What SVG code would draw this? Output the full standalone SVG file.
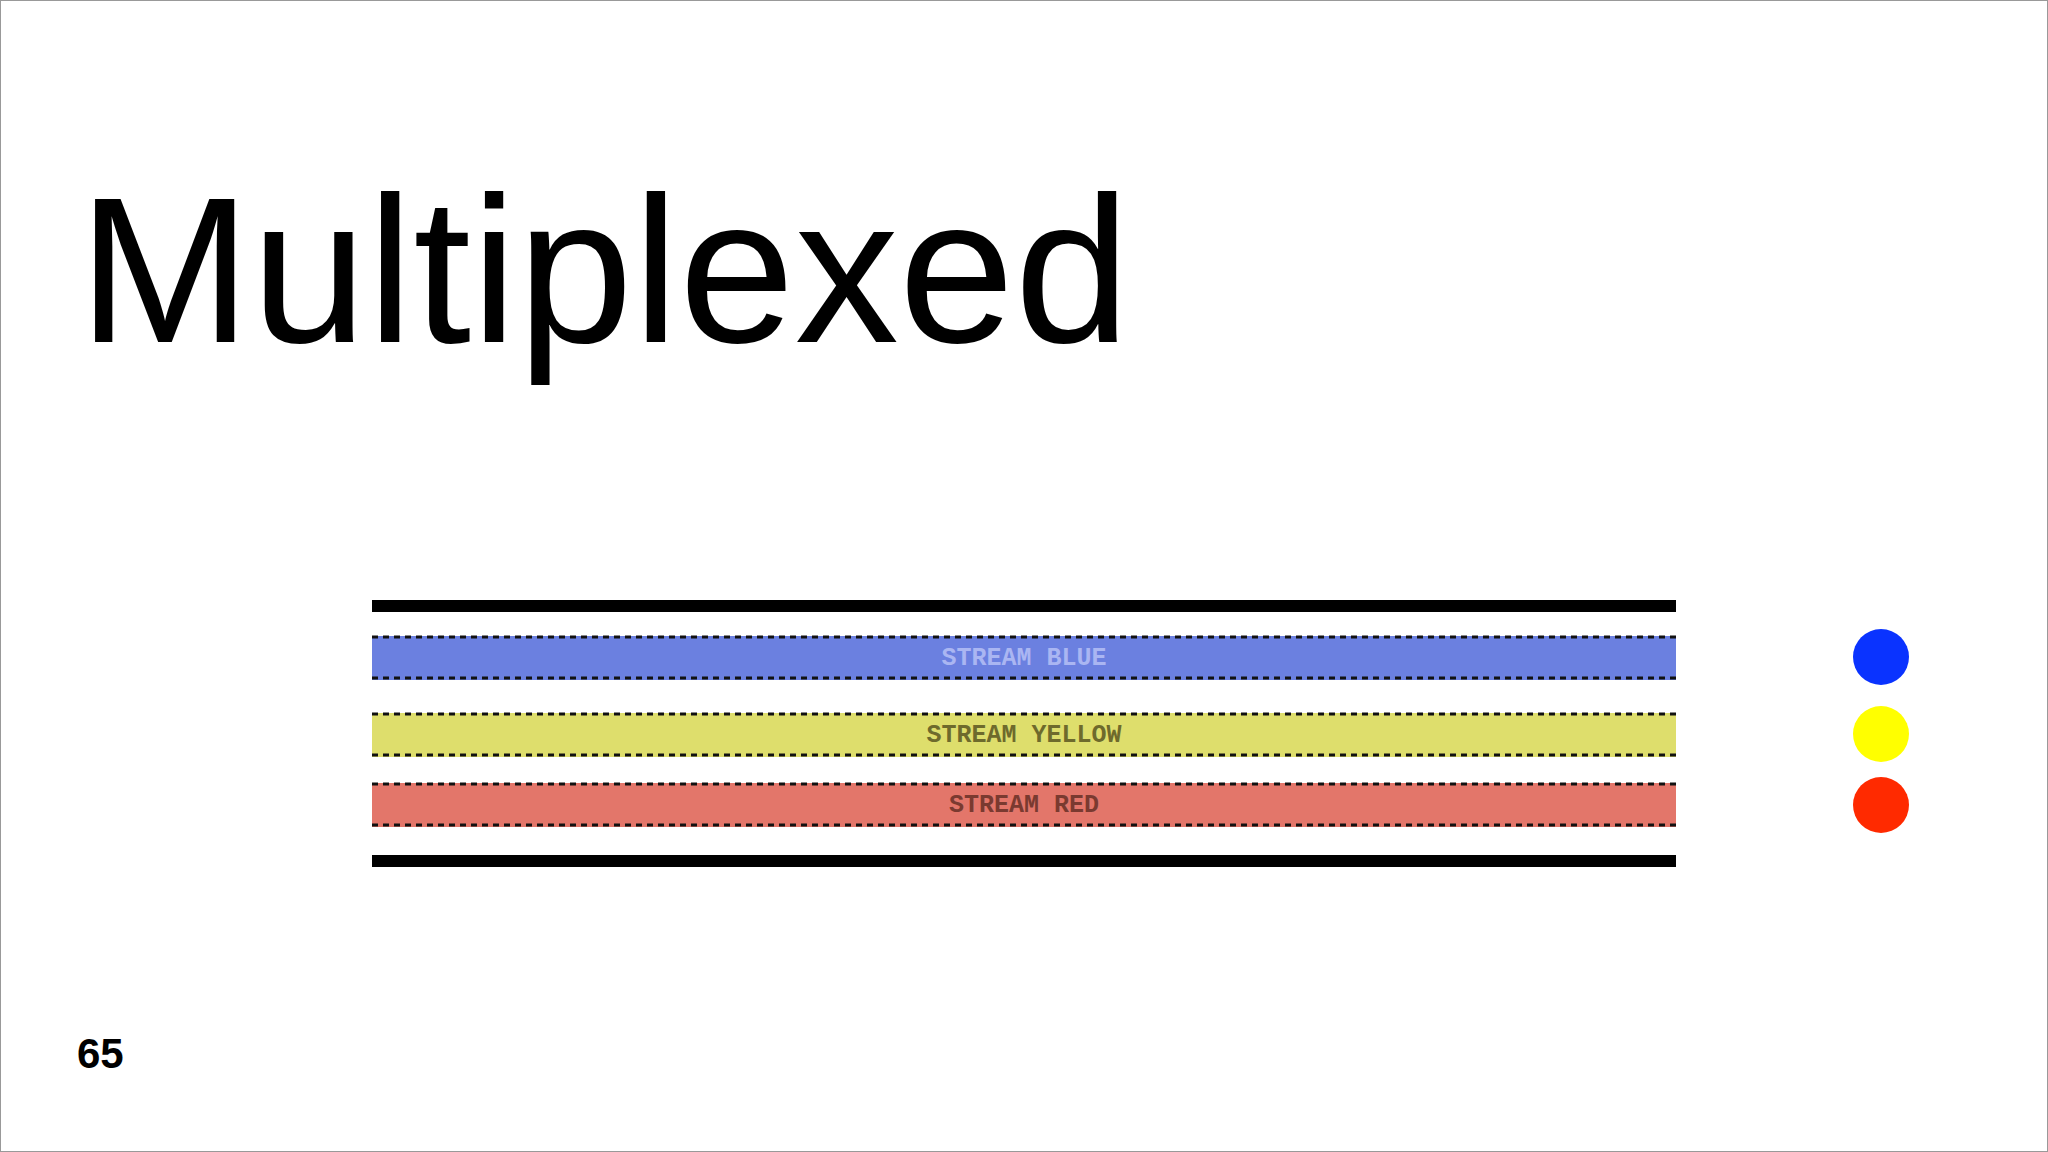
<svg xmlns="http://www.w3.org/2000/svg" width="2048" height="1152" viewBox="0 0 2048 1152">
<style>
.bar{fill:#000}
.dash{stroke:#111;stroke-width:3;stroke-dasharray:6 5;fill:none}
.lbl{font-family:"Liberation Mono",monospace;font-size:25px;font-weight:bold;text-anchor:middle}
</style>
<rect x="0.5" y="0.5" width="2047" height="1151" fill="#fff" stroke="#999"/>
<text x="78" y="342" font-family="Liberation Sans, Arial, sans-serif" font-size="208" fill="#000">Multiplexed</text>
<text x="77" y="1068" font-family="Liberation Sans, Arial, sans-serif" font-size="42" font-weight="bold" fill="#000">65</text>
<g id="top-bar"><rect class="bar" x="372" y="600" width="1304" height="12"/></g>
<g id="stream-blue">
<rect x="372" y="636" width="1304" height="44" fill="#6b80e0"/>
<line class="dash" x1="372" y1="637" x2="1676" y2="637"/><line class="dash" x1="372" y1="678" x2="1676" y2="678"/>
<text class="lbl" x="1024" y="665" fill="#aab6f2">STREAM BLUE</text></g>
<g id="stream-yellow">
<rect x="372" y="713" width="1304" height="44" fill="#dede6c"/>
<line class="dash" x1="372" y1="714" x2="1676" y2="714"/><line class="dash" x1="372" y1="755" x2="1676" y2="755"/>
<text class="lbl" x="1024" y="742" fill="#6e6a2c">STREAM YELLOW</text></g>
<g id="stream-red">
<rect x="372" y="783" width="1304" height="44" fill="#e3766a"/>
<line class="dash" x1="372" y1="784" x2="1676" y2="784"/><line class="dash" x1="372" y1="825" x2="1676" y2="825"/>
<text class="lbl" x="1024" y="812" fill="#7a3a30">STREAM RED</text></g>
<g id="bottom-bar"><rect class="bar" x="372" y="855" width="1304" height="12"/></g>
<g id="dot-blue"><circle cx="1881" cy="657" r="28" fill="#0a33ff"/></g>
<g id="dot-yellow"><circle cx="1881" cy="734" r="28" fill="#ffff00"/></g>
<g id="dot-red"><circle cx="1881" cy="805" r="28" fill="#ff2a00"/></g>
<g id="connectors"></g>
</svg>
